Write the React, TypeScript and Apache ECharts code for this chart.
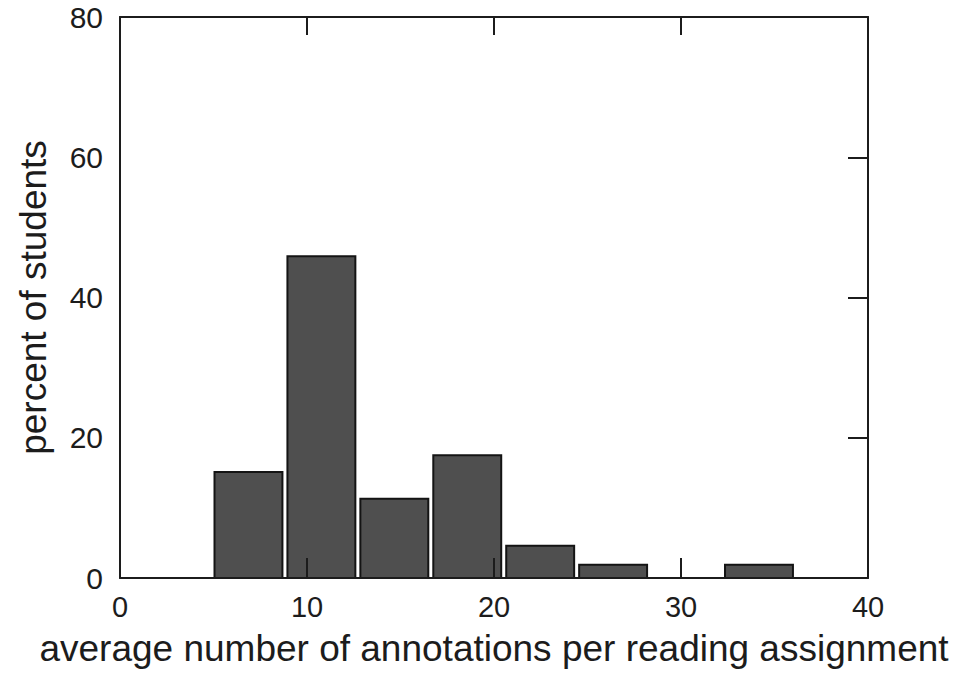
import React, { useEffect, useRef } from "react";
import * as echarts from "echarts";

const binEdges = [5, 8.9, 12.8, 16.7, 20.6, 24.5, 28.4, 32.3, 36.2];
const percentStudents = [15.1, 45.9, 11.3, 17.5, 4.6, 1.9, 0, 1.9];
const xTicks = [0, 10, 20, 30, 40];
const yTicks = [0, 20, 40, 60, 80];
const xTitle = "average number of annotations per reading assignment";
const yTitle = "percent of students";

const FONT = "'Liberation Sans', Arial, Helvetica, sans-serif";
const INK = "#1c1c1c";

export default function App() {
  const ref = useRef<HTMLDivElement>(null);

  useEffect(() => {
    if (!ref.current) return;
    const chart = echarts.init(ref.current, undefined, { renderer: "svg" });
    const data = percentStudents.map((v, i) => [binEdges[i], binEdges[i + 1], v]);

    const lineStyle = { color: INK, width: 2 };
    chart.setOption({
      animation: false,
      backgroundColor: "#ffffff",
      textStyle: { fontFamily: FONT },
      grid: { left: 120, right: 96, top: 17, bottom: 105 },
      xAxis: [
        {
          type: "value",
          position: "bottom",
          min: xTicks[0],
          max: xTicks[xTicks.length - 1],
          interval: 10,
          z: 10,
          axisLine: { show: true, onZero: false, lineStyle },
          axisTick: { show: true, inside: true, length: 20, lineStyle },
          axisLabel: { fontSize: 29, color: INK, margin: 14, fontFamily: FONT },
          splitLine: { show: false },
          name: xTitle,
          nameLocation: "middle",
          nameGap: 52,
          nameTextStyle: { fontSize: 37, color: INK, fontFamily: FONT, verticalAlign: "top" },
        },
        {
          type: "value",
          position: "top",
          min: xTicks[0],
          max: xTicks[xTicks.length - 1],
          interval: 10,
          z: 10,
          axisLine: { show: true, onZero: false, lineStyle },
          axisTick: { show: true, inside: true, length: 18, lineStyle },
          axisLabel: { show: false },
          splitLine: { show: false },
        },
      ],
      yAxis: [
        {
          type: "value",
          position: "left",
          min: yTicks[0],
          max: yTicks[yTicks.length - 1],
          interval: 20,
          z: 10,
          axisLine: { show: true, onZero: false, lineStyle },
          axisTick: { show: false },
          axisLabel: { fontSize: 30, color: INK, margin: 17, fontFamily: FONT },
          splitLine: { show: false },
          name: yTitle,
          nameLocation: "middle",
          nameGap: 68,
          nameTextStyle: { fontSize: 37, color: INK, fontFamily: FONT },
        },
        {
          type: "value",
          position: "right",
          min: yTicks[0],
          max: yTicks[yTicks.length - 1],
          interval: 20,
          z: 10,
          axisLine: { show: true, onZero: false, lineStyle },
          axisTick: { show: true, inside: true, length: 20, lineStyle },
          axisLabel: { show: false },
          splitLine: { show: false },
        },
      ],
      series: [
        {
          type: "custom",
          xAxisIndex: 0,
          yAxisIndex: 0,
          encode: { x: [0, 1], y: 2 },
          data,
          z: 2,
          renderItem: (params: any, api: any) => {
            const x0 = api.value(0);
            const x1 = api.value(1);
            const h = api.value(2);
            if (!h) return { type: "group", children: [] };
            const pTop = api.coord([x0, h]);
            const pBot = api.coord([x1, 0]);
            return {
              type: "rect",
              shape: {
                x: pTop[0] + 1,
                y: pTop[1],
                width: pBot[0] - pTop[0] - 5,
                height: pBot[1] - pTop[1],
              },
              style: { fill: "#4f4f4f", stroke: "#141414", lineWidth: 2 },
            };
          },
        },
      ],
    });
    return () => chart.dispose();
  }, []);

  return (
    <div
      ref={ref}
      style={{ position: "fixed", left: 0, top: 0, width: 964, height: 683, background: "#fff" }}
    />
  );
}
